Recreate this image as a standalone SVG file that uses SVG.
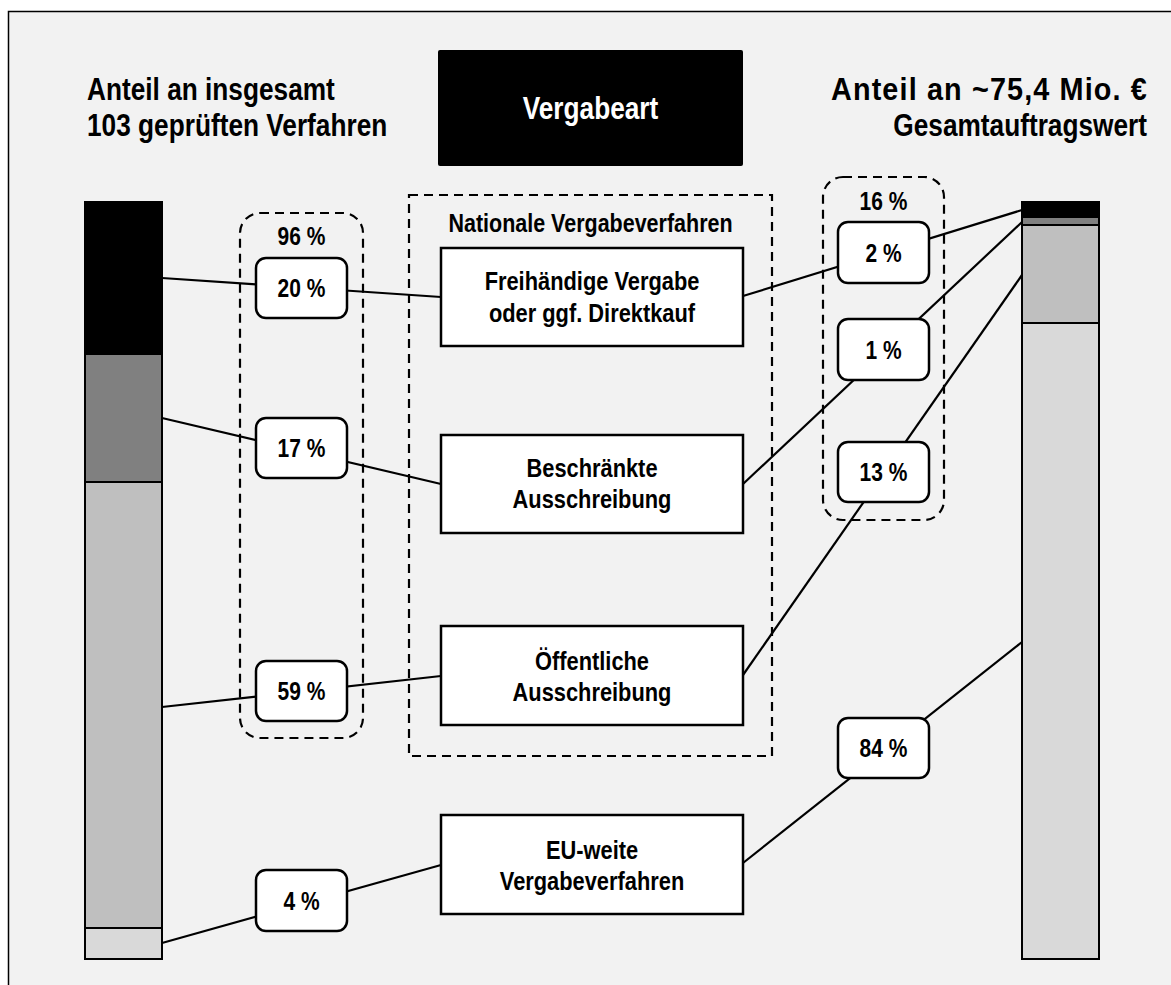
<svg xmlns="http://www.w3.org/2000/svg" width="1171" height="985" viewBox="0 0 1171 985">
<style>
text{font-family:"Liberation Sans",Arial,sans-serif;font-weight:bold;fill:#000}
.h{font-size:32px}
.n{font-size:26px;text-anchor:middle}
.p{font-size:25px;text-anchor:middle}
.g{font-size:25px;text-anchor:middle}
.node{fill:#fff;stroke:#000;stroke-width:2.5}
.lbl{fill:#fff;stroke:#000;stroke-width:2.5}
.dash{fill:none;stroke:#000;stroke-width:2.2;stroke-dasharray:9 6}
.seg{stroke:#000;stroke-width:2}
.con line{stroke:#000;stroke-width:2.2}
</style>
<rect x="0" y="0" width="1171" height="985" fill="#fff"/>
<rect x="8.5" y="11.5" width="1175" height="985" fill="#f2f2f2" stroke="#000" stroke-width="1.5"/>

<g id="header-left">
<text class="h" transform="translate(87 100) scale(0.82 1)">Anteil an insgesamt</text>
<text class="h" transform="translate(87 136) scale(0.82 1)">103 geprüften Verfahren</text>
</g>
<g id="header-right">
<text class="h" textLength="351" lengthAdjust="spacing" transform="translate(831 100) scale(0.9 1)">Anteil an ~75,4 Mio. €</text>
<text class="h" text-anchor="end" transform="translate(1147 136) scale(0.82 1)">Gesamtauftragswert</text>
</g>
<g id="vergabeart">
<rect x="438" y="50" width="305" height="116" rx="2" fill="#000"/>
<text class="h" text-anchor="middle" style="fill:#fff" transform="translate(590.5 119) scale(0.82 1)">Vergabeart</text>
</g>

<g id="bar-left">
<rect class="seg" x="85" y="202" width="77" height="152" fill="#000"/>
<rect class="seg" x="85" y="354" width="77" height="128" fill="#808080"/>
<rect class="seg" x="85" y="482" width="77" height="446" fill="#bfbfbf"/>
<rect class="seg" x="85" y="928" width="77" height="31" fill="#d9d9d9"/>
</g>
<g id="bar-right">
<rect class="seg" x="1022" y="202" width="77" height="15" fill="#000"/>
<rect class="seg" x="1022" y="217" width="77" height="8" fill="#808080"/>
<rect class="seg" x="1022" y="225" width="77" height="98" fill="#bfbfbf"/>
<rect class="seg" x="1022" y="323" width="77" height="636" fill="#d9d9d9"/>
</g>

<g id="group-national">
<rect class="dash" x="409" y="195" width="363" height="561"/>
<text class="g" transform="translate(590.5 232) scale(0.86 1)">Nationale Vergabeverfahren</text>
</g>
<g id="group-left-96">
<rect class="dash" x="240" y="213" width="123" height="525" rx="20"/>
<text class="p" transform="translate(301.5 245) scale(0.84 1)">96 %</text>
</g>
<g id="group-right-16">
<rect class="dash" x="823" y="177" width="121" height="343" rx="20"/>
<text class="p" transform="translate(883.5 210) scale(0.84 1)">16 %</text>
</g>

<g id="connectors" class="con">
<line x1="162" y1="278" x2="441" y2="297"/>
<line x1="162" y1="418" x2="441" y2="484"/>
<line x1="162" y1="707" x2="441" y2="676"/>
<line x1="162" y1="943" x2="441" y2="865"/>
<line x1="743" y1="296" x2="1022" y2="210"/>
<line x1="743" y1="484" x2="1022" y2="222"/>
<line x1="743" y1="675" x2="1022" y2="275"/>
<line x1="743" y1="863" x2="1022" y2="642"/>
</g>

<g id="node-freihaendig">
<rect class="node" x="441" y="248" width="302" height="98"/>
<text class="n" transform="translate(592 290) scale(0.84 1)">Freihändige Vergabe</text>
<text class="n" transform="translate(592 322) scale(0.84 1)">oder ggf. Direktkauf</text>
</g>
<g id="node-beschraenkt">
<rect class="node" x="441" y="435" width="302" height="98"/>
<text class="n" transform="translate(592 477) scale(0.84 1)">Beschränkte</text>
<text class="n" transform="translate(592 508) scale(0.84 1)">Ausschreibung</text>
</g>
<g id="node-oeffentlich">
<rect class="node" x="441" y="626" width="302" height="99"/>
<text class="n" transform="translate(592 670) scale(0.84 1)">Öffentliche</text>
<text class="n" transform="translate(592 701) scale(0.84 1)">Ausschreibung</text>
</g>
<g id="node-eu">
<rect class="node" x="441" y="815" width="302" height="99"/>
<text class="n" transform="translate(592 859) scale(0.84 1)">EU-weite</text>
<text class="n" transform="translate(592 890) scale(0.84 1)">Vergabeverfahren</text>
</g>

<g id="label-20">
<rect class="lbl" x="256" y="258" width="91" height="60" rx="10"/>
<text class="p" transform="translate(301.5 297) scale(0.84 1)">20 %</text>
</g>
<g id="label-17">
<rect class="lbl" x="256" y="418" width="91" height="60" rx="10"/>
<text class="p" transform="translate(301.5 457) scale(0.84 1)">17 %</text>
</g>
<g id="label-59">
<rect class="lbl" x="256" y="661" width="91" height="60" rx="10"/>
<text class="p" transform="translate(301.5 700) scale(0.84 1)">59 %</text>
</g>
<g id="label-4">
<rect class="lbl" x="256" y="870" width="91" height="61" rx="10"/>
<text class="p" transform="translate(301.5 910) scale(0.84 1)">4 %</text>
</g>
<g id="label-2">
<rect class="lbl" x="838" y="222" width="91" height="61" rx="10"/>
<text class="p" transform="translate(883.5 262) scale(0.84 1)">2 %</text>
</g>
<g id="label-1">
<rect class="lbl" x="838" y="319" width="91" height="61" rx="10"/>
<text class="p" transform="translate(883.5 359) scale(0.84 1)">1 %</text>
</g>
<g id="label-13">
<rect class="lbl" x="838" y="442" width="91" height="60" rx="10"/>
<text class="p" transform="translate(883.5 481) scale(0.84 1)">13 %</text>
</g>
<g id="label-84">
<rect class="lbl" x="838" y="718" width="91" height="60" rx="10"/>
<text class="p" transform="translate(883.5 757) scale(0.84 1)">84 %</text>
</g>
</svg>
